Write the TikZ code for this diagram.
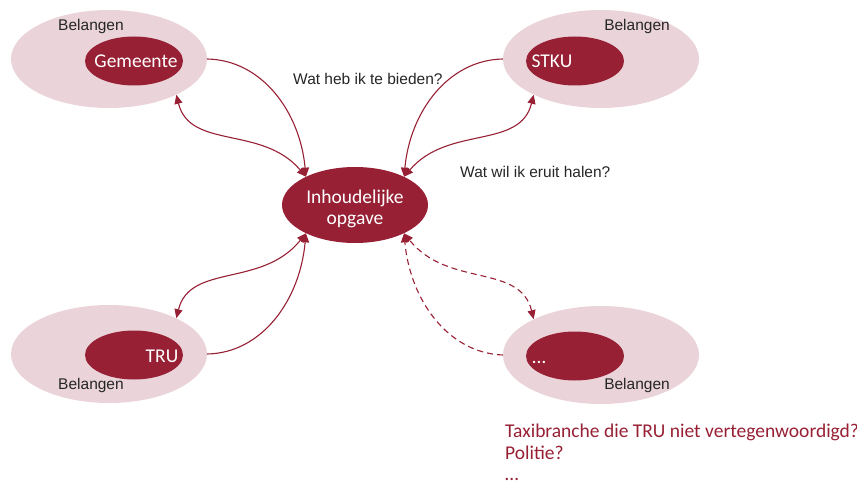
\documentclass[tikz,border=0pt]{standalone}
\usepackage{fontspec}
\setmainfont{Carlito}
\newfontfamily\arialf{Liberation Sans}
\usetikzlibrary{arrows.meta,shapes.geometric}
\definecolor{dred}{RGB}{151,32,52}
\definecolor{pinkbg}{RGB}{234,212,217}
\definecolor{txtgray}{RGB}{38,38,38}
\begin{document}
\begin{tikzpicture}[x=1pt,y=-1pt,
 outer/.style={ellipse,fill=pinkbg,minimum width=196pt,minimum height=98pt,inner sep=0pt},
 innerell/.style={ellipse,fill=dred,minimum width=98pt,minimum height=49pt,inner sep=0pt},
 wtxt/.style={text=white,font=\fontsize{19.5}{21}\selectfont,inner sep=0pt,anchor=base},
 btxt/.style={text=txtgray,font=\arialf\fontsize{15.5}{18}\selectfont,inner sep=0pt,anchor=base},
 conn/.style={draw=dred,line width=1.1pt,-{Triangle[length=9pt,width=8pt]}},
 dconn/.style={draw=dred,line width=1.1pt,{Triangle[length=9pt,width=8pt]}-{Triangle[length=9pt,width=8pt]}},
 dashc/.style={dash pattern=on 6pt off 4pt}
]
\useasboundingbox (0,0) rectangle (857,481);

% central
\node[ellipse,fill=dred,minimum width=146pt,minimum height=76pt,inner sep=0pt,
      text=white,align=center,font=\fontsize{19.5}{21}\selectfont] (c) at (355,205) {\rule{0pt}{21pt}Inhoudelijke\\opgave};

% Gemeente
\node[outer] (go) at (109,59) {};
\node[innerell] (gi) at (134,61) {};
\node[wtxt] (gt) at (136,68) {Gemeente};
\node[btxt] (gb) at (91,31) {Belangen};

% STKU
\node[outer] (so) at (601,59) {};
\node[innerell] (si) at (575,61) {};
\node[wtxt] (st) at (552,68) {STKU};
\node[btxt] (sb) at (637,31) {Belangen};

% TRU
\node[outer] (to) at (109,354) {};
\node[innerell] (ti) at (134,355) {};
\node[wtxt] (tt) at (162,362) {TRU};
\node[btxt] (tb) at (91,389) {Belangen};

% dots
\node[outer] (do) at (601,355) {};
\node[innerell] (di) at (575,356) {};
\node[wtxt] (dt) at (539,363) {…};
\node[btxt] (db) at (637,389) {Belangen};

% questions
\node[btxt,anchor=base west] (q1) at (293,85) {Wat heb ik te bieden?};
\node[btxt,anchor=base west] (q2) at (460,178) {Wat wil ik eruit halen?};

% note
\node[text=dred,font=\fontsize{19.5}{21.5}\selectfont,align=left,anchor=north west,inner sep=0pt] (note) at (505,424) {Taxibranche die TRU niet vertegenwoordigd?\\Politie?\\…};

% connectors
\draw[conn] (go.east) .. controls (262,60) and (300,112) .. (c.150);
\draw[dconn] (go.-28) .. controls (190,150) and (262,125) .. (c.150);
\draw[conn] (so.west) .. controls (448,60) and (410,112) .. (c.30);
\draw[dconn] (so.-152) .. controls (520,150) and (448,125) .. (c.30);
\draw[conn] (to.east) .. controls (262,353) and (300,300) .. (c.-150);
\draw[dconn] (to.28) .. controls (190,263) and (262,288) .. (c.-150);
\draw[conn,dashc] (do.west) .. controls (448,353) and (410,300) .. (c.-30);
\draw[dconn,dashc] (do.152) .. controls (520,263) and (448,288) .. (c.-30);
\end{tikzpicture}
\end{document}
